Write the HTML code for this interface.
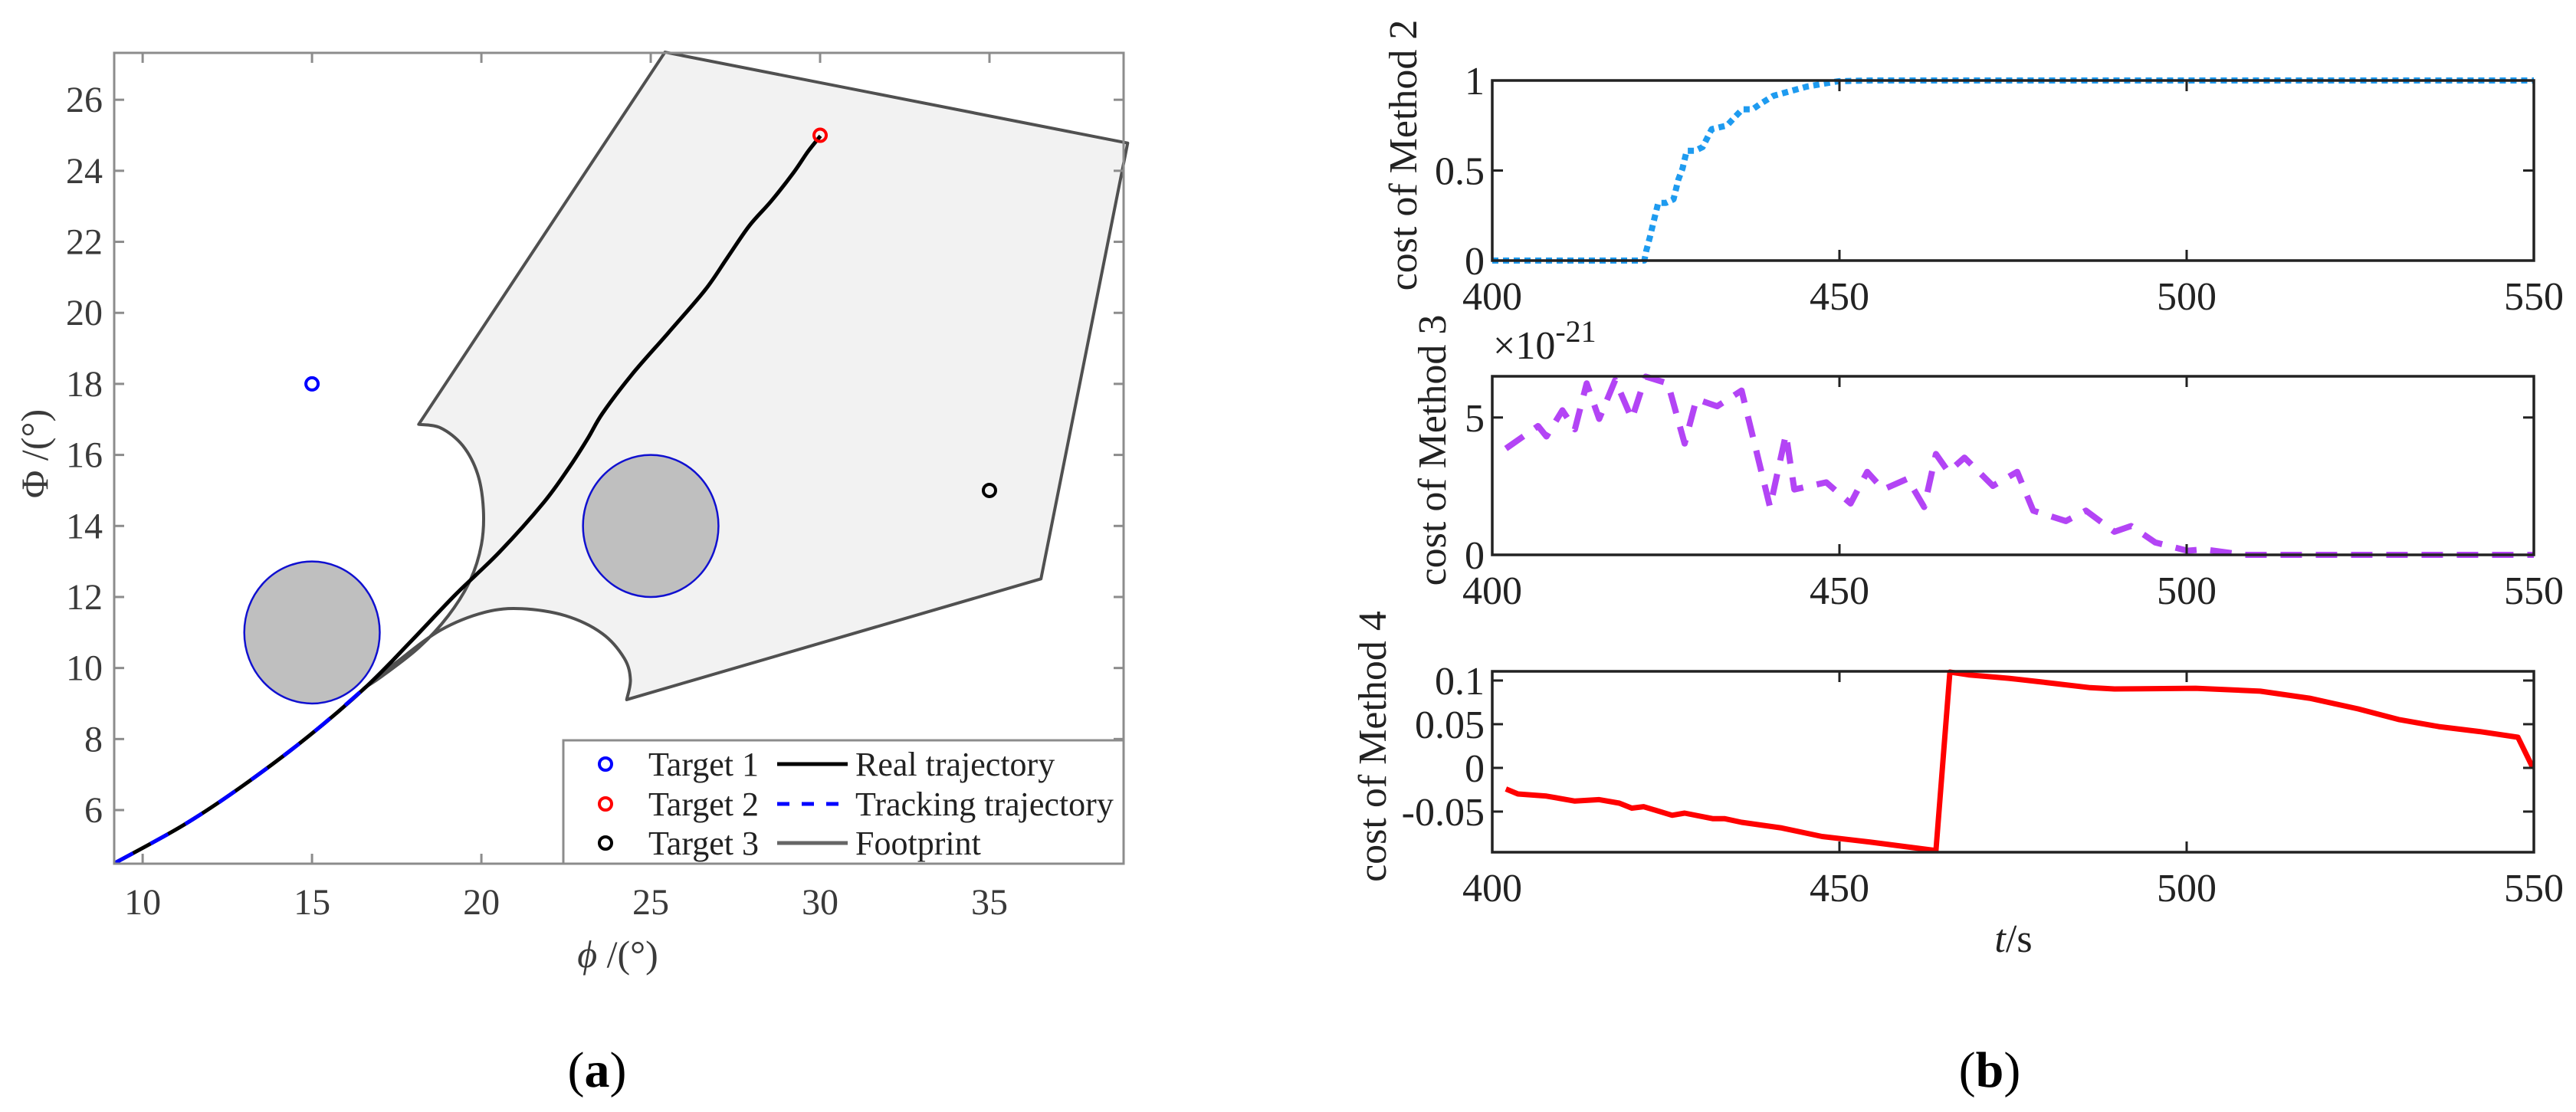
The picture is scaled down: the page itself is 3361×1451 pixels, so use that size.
<!DOCTYPE html>
<html><head><meta charset="utf-8"><style>
html,body{margin:0;padding:0;background:#fff;}
svg{display:block;font-family:"Liberation Serif","DejaVu Serif",serif;}
</style></head><body>
<svg id="fig" width="3361" height="1451" viewBox="0 0 3361 1451" xmlns="http://www.w3.org/2000/svg">
<g id="pa"></g>
<g id="pb"></g>
</svg>
<script>
// ---------- Panel (a) data ----------
const aXTicks = [10, 15, 20, 25, 30, 35];
const aYTicks = [6, 8, 10, 12, 14, 16, 18, 20, 22, 24, 26];
const footprintX = [25.42, 39.08, 36.52, 24.29, 24.40, 24.22, 23.57, 22.49, 21.19, 20.10, 18.80, 17.50, 16.53, 17.07, 18.15, 19.02, 19.67, 20.00, 20.06, 19.89, 19.45, 18.80, 18.15];
const footprintY = [27.34, 24.78, 12.51, 9.11, 9.67, 10.27, 10.97, 11.47, 11.67, 11.57, 11.07, 10.17, 9.43, 9.77, 10.57, 11.47, 12.47, 13.47, 14.46, 15.46, 16.26, 16.76, 16.86];
const realX = [9.20, 11.21, 12.95, 14.90, 16.64, 17.94, 19.24, 20.54, 21.84, 22.60, 23.14, 23.57, 24.44, 25.53, 26.61, 27.26, 27.91, 28.56, 29.21, 29.64, 30.01];
const realY = [4.52, 5.58, 6.68, 8.08, 9.51, 10.77, 12.07, 13.27, 14.66, 15.66, 16.46, 17.16, 18.26, 19.45, 20.65, 21.55, 22.45, 23.15, 23.94, 24.54, 24.98];
const trackX = [9.20, 11.21, 12.95, 14.90, 16.64];
const trackY = [4.52, 5.58, 6.68, 8.08, 9.51];
const obstacleX = [15, 25];
const obstacleY = [11, 14];
const obstacleR = [2, 2];
const targetX = [15, 30, 35];
const targetY = [18, 25, 15];
const targetColors = ['#0000ff', '#ff0000', '#000000'];

// ---------- Panel (b) data ----------
const bXTicks = [400, 450, 500, 550];
const m2T = [400, 402, 421.9, 422.2, 422.7, 423.2, 423.9, 425.0, 426.1, 426.8, 427.4, 428.0, 429.2, 430.3, 431.6, 433.8, 436.0, 437.5, 438.6, 440.5, 445.3, 449.9, 454.6, 550];
const m2V = [0, 0, 0, 0.057, 0.13, 0.21, 0.32, 0.32, 0.34, 0.45, 0.51, 0.61, 0.61, 0.63, 0.73, 0.75, 0.84, 0.84, 0.87, 0.915, 0.966, 0.996, 1.0, 1.0];
const m3T = [401.96, 406.6, 407.8, 410.1, 411.9, 413.6, 415.4, 417.7, 420.1, 422.1, 425.3, 427.7, 429.4, 432.4, 435.9, 440.0, 442.3, 443.5, 448.1, 451.6, 454.0, 456.3, 459.8, 462.2, 463.9, 465.7, 468.0, 472.1, 475.6, 477.9, 482.6, 485.5, 489.6, 492.0, 495.5, 500.1, 502.5, 508.3, 550];
const m3V = [3.87, 4.69, 4.31, 5.26, 4.57, 6.24, 4.95, 6.36, 4.95, 6.49, 6.24, 4.05, 5.67, 5.41, 5.98, 1.74, 4.39, 2.38, 2.64, 1.87, 3.02, 2.38, 2.77, 1.74, 3.67, 3.02, 3.54, 2.51, 3.02, 1.61, 1.23, 1.61, 0.84, 1.05, 0.45, 0.15, 0.2, 0.0, 0.0];
const m4T = [401.96, 403.7, 407.8, 411.9, 415.4, 418.3, 420.1, 421.8, 425.9, 427.7, 431.8, 433.5, 435.9, 441.7, 447.5, 454.5, 463.9, 465.9, 468.6, 474.4, 479.1, 486.1, 489.6, 501.3, 510.6, 517.7, 524.7, 530.5, 536.3, 542.2, 547.7, 549.8];
const m4V = [-0.0241, -0.0298, -0.0323, -0.0380, -0.0363, -0.0404, -0.0461, -0.0444, -0.0542, -0.0518, -0.0582, -0.0582, -0.0623, -0.0688, -0.0785, -0.0850, -0.0947, 0.1097, 0.1065, 0.1025, 0.0983, 0.0918, 0.0903, 0.0911, 0.0878, 0.0797, 0.0675, 0.0554, 0.0473, 0.0416, 0.0351, 0.001];
const s1Ticks = [0, 0.5, 1];
const s1Labels = ['0', '0.5', '1'];
const s2Ticks = [0, 5];
const s2Labels = ['0', '5'];
const s3Ticks = [-0.05, 0, 0.05, 0.1];
const s3Labels = ['-0.05', '0', '0.05', '0.1'];

const NS = 'http://www.w3.org/2000/svg';
function mk(parent, tag, attrs, text) {
  const e = document.createElementNS(NS, tag);
  for (const k in attrs) e.setAttribute(k, attrs[k]);
  if (text !== undefined) e.textContent = text;
  parent.appendChild(e);
  return e;
}
function ptsStr(xs, ys, fx, fy) { return xs.map((v, i) => fx(v).toFixed(1) + ',' + fy(ys[i]).toFixed(1)).join(' '); }
// Catmull-Rom smooth segment through pixel points (without initial M)
function smoothSeg(P) {
  let d = '';
  for (let i = 0; i < P.length - 1; i++) {
    const p0 = P[Math.max(0, i - 1)], p1 = P[i], p2 = P[i + 1], p3 = P[Math.min(P.length - 1, i + 2)];
    const c1 = [p1[0] + (p2[0] - p0[0]) / 6, p1[1] + (p2[1] - p0[1]) / 6];
    const c2 = [p2[0] - (p3[0] - p1[0]) / 6, p2[1] - (p3[1] - p1[1]) / 6];
    d += ' C' + c1[0].toFixed(1) + ',' + c1[1].toFixed(1) + ' ' + c2[0].toFixed(1) + ',' + c2[1].toFixed(1) + ' ' + p2[0].toFixed(1) + ',' + p2[1].toFixed(1);
  }
  return d;
}

// ---------- Panel (a) ----------
(function () {
  const g = document.getElementById('pa');
  const L = 149, R = 1466, T = 69, B = 1127;
  const x0 = 9.16, x1 = 38.96, y0 = 4.49, y1 = 27.32;
  const sx = v => L + (v - x0) / (x1 - x0) * (R - L);
  const sy = v => B - (v - y0) / (y1 - y0) * (B - T);
  const axc = '#8c8c8c', txc = '#3a3a3a';

  const P = footprintX.map((v, i) => [sx(v), sy(footprintY[i])]);
  let d = 'M' + P[0][0] + ',' + P[0][1] + ' L' + P[1][0] + ',' + P[1][1] + ' L' + P[2][0] + ',' + P[2][1] + ' L' + P[3][0] + ',' + P[3][1];
  d += smoothSeg(P.slice(3, 13));
  d += smoothSeg(P.slice(12, 23));
  d += ' Z';
  const fp = mk(g, 'path', { d: d, fill: '#f2f2f2', stroke: '#505050', 'stroke-width': 4, 'stroke-linejoin': 'round' });
  
  

  obstacleX.forEach((cx, i) => {
    const e = mk(g, 'ellipse', { cx: sx(cx), cy: sy(obstacleY[i]), rx: sx(cx + obstacleR[i]) - sx(cx), ry: sy(obstacleY[i]) - sy(obstacleY[i] + obstacleR[i]), fill: '#bfbfbf', stroke: '#1010d0', 'stroke-width': 2.5 });
    
    
  });

  const RP = realX.map((v, i) => [sx(v), sy(realY[i])]);
  const rl = mk(g, 'path', { d: 'M' + RP[0][0] + ',' + RP[0][1] + smoothSeg(RP), fill: 'none', stroke: '#000', 'stroke-width': 5, 'stroke-linejoin': 'round' });
  
  
  const TP = trackX.map((v, i) => [sx(v), sy(trackY[i])]);
  const tl = mk(g, 'path', { d: 'M' + TP[0][0] + ',' + TP[0][1] + smoothSeg(TP), fill: 'none', stroke: '#0000ff', 'stroke-width': 5, 'stroke-dasharray': '26 26' });
  
  

  targetX.forEach((tx, i) => {
    const c = mk(g, 'circle', { cx: sx(tx), cy: sy(targetY[i]), r: 8, fill: 'none', stroke: targetColors[i], 'stroke-width': 4 });
    
    
  });

  const box = mk(g, 'rect', { x: L, y: T, width: R - L, height: B - T, fill: 'none', stroke: axc, 'stroke-width': 3 });
  
  
  aXTicks.forEach(v => {
    const X = sx(v);
    mk(g, 'line', { x1: X, y1: B, x2: X, y2: B - 13, stroke: axc, 'stroke-width': 3 });
    mk(g, 'line', { x1: X, y1: T, x2: X, y2: T + 13, stroke: axc, 'stroke-width': 3 });
    const t = mk(g, 'text', { x: X, y: 1193, 'text-anchor': 'middle', 'font-size': 48, fill: txc }, String(v));
    
    
  });
  aYTicks.forEach(v => {
    const Y = sy(v);
    mk(g, 'line', { x1: L, y1: Y, x2: L + 13, y2: Y, stroke: axc, 'stroke-width': 3 });
    mk(g, 'line', { x1: R, y1: Y, x2: R - 13, y2: Y, stroke: axc, 'stroke-width': 3 });
    const t = mk(g, 'text', { x: 134, y: Y + 16, 'text-anchor': 'end', 'font-size': 48, fill: txc }, String(v));
    
    
  });

  const xl = mk(g, 'text', { x: 806, y: 1262, 'text-anchor': 'middle', 'font-size': 50, fill: txc });
  
  
  mk(xl, 'tspan', { 'font-style': 'italic' }, 'ϕ');
  mk(xl, 'tspan', {}, ' /(°)');
  const yl = mk(g, 'text', { x: 0, y: 0, transform: 'translate(62,592) rotate(-90)', 'text-anchor': 'middle', 'font-size': 50, fill: txc }, 'Φ /(°)');
  
  

  const lg = mk(g, 'g', {});
  
  
  mk(lg, 'rect', { x: 735, y: 966, width: R - 735, height: B - 966, fill: '#fff', stroke: axc, 'stroke-width': 3 });
  const rows = [997, 1049, 1100];
  const names = ['Target 1', 'Target 2', 'Target 3'];
  const lnames = ['Real trajectory', 'Tracking trajectory', 'Footprint'];
  rows.forEach((y, i) => {
    mk(lg, 'circle', { cx: 790, cy: y, r: 8, fill: 'none', stroke: targetColors[i], 'stroke-width': 4 });
    const t = mk(lg, 'text', { x: 846, y: y + 15, 'font-size': 44, fill: '#222' }, names[i]);
    
    
    const t2 = mk(lg, 'text', { x: 1116, y: y + 15, 'font-size': 44, fill: '#222' }, lnames[i]);
    
    
  });
  mk(lg, 'line', { x1: 1014, y1: rows[0], x2: 1106, y2: rows[0], stroke: '#000', 'stroke-width': 5 });
  mk(lg, 'line', { x1: 1014, y1: rows[1], x2: 1106, y2: rows[1], stroke: '#0000ff', 'stroke-width': 5, 'stroke-dasharray': '16 16' });
  mk(lg, 'line', { x1: 1014, y1: rows[2], x2: 1106, y2: rows[2], stroke: '#666', 'stroke-width': 5 });

  const cap = mk(g, 'text', { x: 779, y: 1418, 'text-anchor': 'middle', 'font-size': 66, fill: '#000' });
  
  
  mk(cap, 'tspan', {}, '(');
  mk(cap, 'tspan', { 'font-weight': 'bold' }, 'a');
  mk(cap, 'tspan', {}, ')');
})();

// ---------- Panel (b) ----------
(function () {
  const g = document.getElementById('pb');
  const L = 1947, R = 3306;
  const sx = v => L + (v - 400) / 150 * (R - L);
  const txc = '#222';
  function sub(name, T, B, ymin, ymax, ticks, labels, ts, vs, style, ylab, ylx) {
    const sg = mk(g, 'g', {});
    
    
    const sy = v => B - (v - ymin) / (ymax - ymin) * (B - T);
    const ln = mk(sg, 'polyline', Object.assign({ points: ptsStr(ts, vs, sx, sy), fill: 'none', 'stroke-linejoin': 'round' }, style));
    
    
    mk(sg, 'rect', { x: L, y: T, width: R - L, height: B - T, fill: 'none', stroke: '#222', 'stroke-width': 3.5 });
    bXTicks.forEach(v => {
      const X = sx(v);
      mk(sg, 'line', { x1: X, y1: B, x2: X, y2: B - 14, stroke: '#222', 'stroke-width': 3 });
      mk(sg, 'line', { x1: X, y1: T, x2: X, y2: T + 14, stroke: '#222', 'stroke-width': 3 });
      const t = mk(sg, 'text', { x: X, y: B + 64, 'text-anchor': 'middle', 'font-size': 52, fill: txc }, String(v));
      
      
    });
    ticks.forEach((v, i) => {
      const Y = sy(v);
      mk(sg, 'line', { x1: L, y1: Y, x2: L + 14, y2: Y, stroke: '#222', 'stroke-width': 3 });
      mk(sg, 'line', { x1: R, y1: Y, x2: R - 14, y2: Y, stroke: '#222', 'stroke-width': 3 });
      const t = mk(sg, 'text', { x: L - 10, y: Y + 18, 'text-anchor': 'end', 'font-size': 52, fill: txc }, labels[i]);
      
      
    });
    const yl = mk(sg, 'text', { x: 0, y: 0, transform: 'translate(' + ylx + ',' + ((T + B) / 2 - 20) + ') rotate(-90)', 'text-anchor': 'middle', 'font-size': 52, fill: txc }, ylab);
    
    
  }
  sub('method-2-plot', 105, 340, 0, 1, s1Ticks, s1Labels, m2T, m2V, { stroke: '#1e9bf0', 'stroke-width': 8, 'stroke-dasharray': '8 6' }, 'cost of Method 2', 1848);
  sub('method-3-plot', 491, 724, 0, 6.5, s2Ticks, s2Labels, m3T, m3V, { stroke: '#b344f5', 'stroke-width': 8, 'stroke-dasharray': '28 18' }, 'cost of Method 3', 1886);
  sub('method-4-plot', 876, 1112, -0.0965, 0.1105, s3Ticks, s3Labels, m4T, m4V, { stroke: '#ff0000', 'stroke-width': 7 }, 'cost of Method 4', 1808);

  const ex = mk(g, 'text', { x: 1948, y: 468, 'font-size': 52, fill: txc });
  
  
  mk(ex, 'tspan', {}, '×10');
  mk(ex, 'tspan', { dy: -22, 'font-size': 40 }, '-21');

  const xl = mk(g, 'text', { x: 2627, y: 1242, 'text-anchor': 'middle', 'font-size': 52, fill: txc });
  
  
  mk(xl, 'tspan', { 'font-style': 'italic' }, 't');
  mk(xl, 'tspan', {}, '/s');

  const cap = mk(g, 'text', { x: 2596, y: 1418, 'text-anchor': 'middle', 'font-size': 66, fill: '#000' });
  
  
  mk(cap, 'tspan', {}, '(');
  mk(cap, 'tspan', { 'font-weight': 'bold' }, 'b');
  mk(cap, 'tspan', {}, ')');
})();
</script>
</body></html>
